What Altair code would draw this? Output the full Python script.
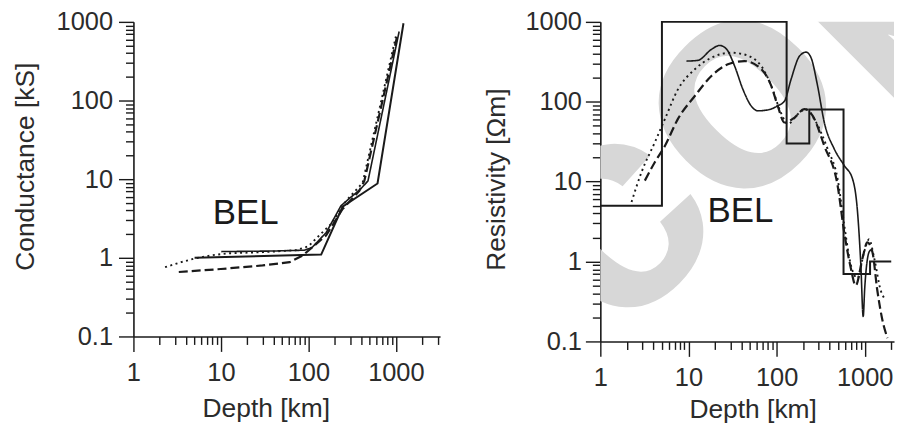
import json
import altair as alt
import pandas as pd

# ---------------- data ----------------
# Left panel: conductance [kS] vs depth [km]
cond_model_depth = [5, 140, 246, 617, 1222]
cond_model_val = [1.0, 1.1, 4.46, 8.8, 960]

cond_solid_depth = [10.1, 40, 90, 110, 160, 236, 400, 480, 1090]
cond_solid_val = [1.2, 1.22, 1.25, 1.35, 2.1, 4.6, 7.6, 9.5, 754]

cond_dotted_depth = [2.3, 3.5, 5, 8, 12, 30, 72, 100, 122, 182, 270, 417, 1000]
cond_dotted_val = [0.76, 0.88, 0.98, 1.08, 1.14, 1.18, 1.25, 1.4, 1.75, 2.7, 5.3, 9.0, 651]

cond_dashed_depth = [3.3, 10, 30, 61, 86, 159, 246, 382, 436, 1043]
cond_dashed_val = [0.66, 0.72, 0.8, 0.88, 1.07, 1.92, 4.17, 7.1, 9.5, 684]

# Right panel: resistivity [Ohm m] vs depth [km]
res_model_depth = [1, 5, 130, 235, 575, 1150, 2000]
res_model_val = [5, 1000, 30, 80, 0.7, 1.0, 1.0]

res_solid_depth = [9.5, 12.8, 18.2, 22.6, 26.8, 33.4, 41.5, 51.5, 61.3, 83, 103, 123,
                   146, 182, 216, 246, 292, 348, 452, 586, 728, 829, 904, 961, 1000,
                   1122, 1180]
res_solid_val = [323, 330, 452, 507, 461, 280, 143, 88.7, 77, 80, 89, 102,
                 191, 373, 418, 356, 158, 55, 25.6, 15.9, 10.8, 4.17, 0.9, 0.205, 0.46,
                 1.32, 1.4]

res_dotted_depth = [2.26, 2.93, 4.15, 5.4, 7.6, 11.8, 18.2, 30.6, 43, 67, 87, 112, 134,
                    174, 216, 268, 380, 492, 586, 697, 829, 982, 1122, 1282, 1524, 1660]
res_dotted_val = [5.56, 13.1, 31, 60.7, 143, 255, 356, 411, 391, 280, 158, 73, 52.5,
                  70, 81, 60.6, 25.6, 10.9, 2.84, 0.9, 0.62, 1.3, 1.9, 1.1, 0.43, 0.35]

res_dashed_depth = [3.2, 4.15, 5.4, 7.6, 11.8, 18.2, 28, 43, 61, 87, 103, 123, 159, 206,
                    257, 348, 492, 586, 697, 790, 944, 1070, 1226, 1380, 1580, 1810]
res_dashed_val = [10.3, 17.5, 28, 61, 118, 210, 294, 323, 280, 158, 89, 55, 63, 81,
                  66.7, 28, 9, 2.3, 0.82, 0.5, 1.1, 1.74, 1.3, 0.46, 0.19, 0.11]

# annotation
label_text = ["BEL"]
label_left_depth = [19.2]
label_left_val = [3.7]
label_right_depth = [38.8]
label_right_val = [4.27]

# watermark text
watermark_text = ["or copy"]

# axis tick values
y_major = [0.1, 1, 10, 100, 1000]
x_major = [1, 10, 100, 1000]

# ---------------- styling ----------------
FONT = "Liberation Sans"
INK = "#1a1a1a"
TXT = "#2b2b2b"


def minor_between(decades, upto):
    vals = []
    for d in decades:
        for k in range(2, 10):
            v = round(k * d, 6)
            if v <= upto:
                vals.append(v)
    return vals


y_ticks = sorted(y_major + minor_between([0.1, 1, 10, 100], 1000))
x_ticks_left = sorted(x_major + minor_between([1, 10, 100, 1000], 3000))
x_ticks_right = sorted(x_major + minor_between([1, 10, 100, 1000], 2000))


def axis(values, majors, title, pad, **kw):
    test = "indexof(%s, datum.value) >= 0" % json.dumps(majors)
    return alt.Axis(
        values=values, title=title, format="~g",
        labelExpr=f"{test} ? datum.label : ''",
        tickSize={"condition": {"test": test, "value": 15}, "value": 8},
        labelPadding=pad, labelOverlap=False, labelFlush=False, labelBound=False,
        grid=False, domainColor=INK, tickColor=INK, domainWidth=1.6, tickWidth=1.4,
        labelFont=FONT, labelFontSize=25.5, labelColor=TXT,
        titleFont=FONT, titleFontSize=26.5, titleFontWeight="normal", titleColor=TXT,
        **kw)


def long_df(parts):
    rows = []
    for name, ds, vs in parts:
        for i, (d, v) in enumerate(zip(ds, vs)):
            rows.append({"series": name, "depth": d, "value": v, "order": i})
    return pd.DataFrame(rows)


dash_scale = alt.Scale(domain=["solid", "dotted", "dashed"],
                       range=[[1, 0], [2, 3.5], [9, 4]])
width_scale = alt.Scale(domain=["solid", "dotted", "dashed"], range=[1.6, 2.2, 1.8])


def panel(model_df, inv_df, lab_df, xdom, width, height, xaxis, yaxis, model_interp,
          inv_interp, extra=None):
    x = alt.X("depth:Q", scale=alt.Scale(type="log", domain=xdom, nice=False), axis=xaxis)
    y = alt.Y("value:Q", scale=alt.Scale(type="log", domain=[0.1, 1000], nice=False),
              axis=yaxis)
    model = alt.Chart(model_df).mark_line(color=INK, strokeWidth=2.0,
                                          interpolate=model_interp).encode(
        x=x, y=y, order="order:Q")
    inv = alt.Chart(inv_df).mark_line(color=INK, interpolate=inv_interp).encode(
        x=x, y=y, order="order:Q", detail="series:N",
        strokeDash=alt.StrokeDash("series:N", scale=dash_scale, legend=None),
        strokeWidth=alt.StrokeWidth("series:N", scale=width_scale, legend=None))
    txt = alt.Chart(lab_df).mark_text(font=FONT, fontSize=35, color=INK,
                                      align="center", baseline="middle").encode(
        x=x, y=y, text="label:N")
    layers = ([extra] if extra is not None else []) + [model, inv, txt]
    return alt.layer(*layers).properties(width=width, height=height)


left_model = long_df([("model", cond_model_depth, cond_model_val)])
left_inv = long_df([("solid", cond_solid_depth, cond_solid_val),
                    ("dotted", cond_dotted_depth, cond_dotted_val),
                    ("dashed", cond_dashed_depth, cond_dashed_val)])
left_lab = pd.DataFrame({"label": label_text, "depth": label_left_depth,
                         "value": label_left_val})

right_model = long_df([("model", res_model_depth, res_model_val)])
right_inv = long_df([("solid", res_solid_depth, res_solid_val),
                     ("dotted", res_dotted_depth, res_dotted_val),
                     ("dashed", res_dashed_depth, res_dashed_val)])
right_lab = pd.DataFrame({"label": label_text, "depth": label_right_depth,
                          "value": label_right_val})

# watermark (decoration, clipped to the right plot area)
watermark = alt.Chart(pd.DataFrame({"wm": watermark_text})).mark_text(
    font=FONT, fontSize=300, fontWeight="bold", color="#d7d7d7",
    align="left", baseline="alphabetic", angle=315, clip=True,
).encode(x=alt.value(-255), y=alt.value(593), text="wm:N")

LW, LH = 308, 316
RW, RH = 295, 321

left = panel(
    left_model, left_inv, left_lab, [1, 3200], LW, LH,
    axis(x_ticks_left, x_major, "Depth [km]", 9, titleX=133, titleY=80,
         titleBaseline="alphabetic", titleAlign="center"),
    axis(y_ticks, y_major, "Conductance [kS]", 6, titleX=-100, titleY=145,
         titleAngle=270, titleBaseline="alphabetic", titleAlign="center"),
    "linear", "linear")

right = panel(
    right_model, right_inv, right_lab, [1, 2150], RW, RH,
    axis(x_ticks_right, x_major, "Depth [km]", 9, titleX=153, titleY=76,
         titleBaseline="alphabetic", titleAlign="center"),
    axis(y_ticks, y_major, "Resistivity [\u03a9m]", 4, titleX=-96, titleY=158,
         titleAngle=270, titleBaseline="alphabetic", titleAlign="center"),
    "step-after", "monotone", extra=watermark)

chart = alt.hconcat(left, right, spacing=44).properties(
    padding={"left": 5, "top": 1, "right": 0, "bottom": 0},
    background="white",
).configure_view(stroke=None)

chart.save("out.html", embed_options={"renderer": "svg", "actions": False})
